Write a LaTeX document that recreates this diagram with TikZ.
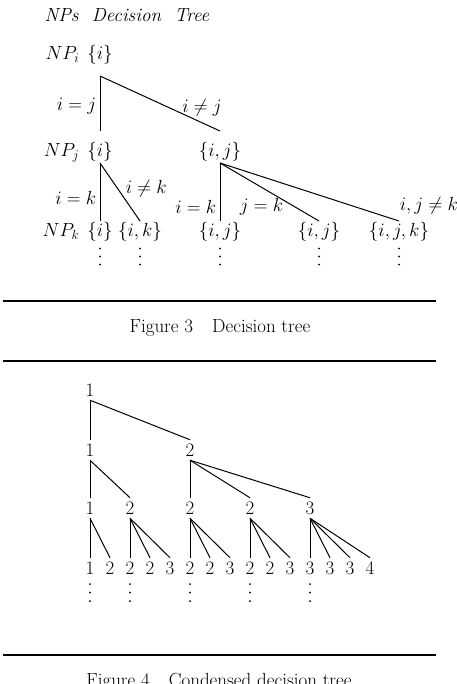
\RequirePackage{fix-cm}
\documentclass[tikz,border=0pt]{standalone}
\usepackage{tikz}
\usetikzlibrary{positioning}

\begin{document}
\begin{tikzpicture}[x=1pt,y=-1pt,
  every node/.style={font=\fontsize{19}{22}\selectfont},
  tnode/.style={inner sep=0pt, outer sep=1.5pt, text height=14pt, text depth=5pt},
  dig/.style={inner sep=0pt, outer ysep=4pt, text height=12.5pt, text depth=0pt},
  branch/.style={line width=1pt},
  rule/.style={line width=1.5pt}]
  \useasboundingbox[fill=white] (0,0) rectangle (456,684);
  % Title
  \node[anchor=west] (title) at (41,15) {\textit{NPs\ \ Decision\ \ Tree}};
  % Figure 3 tree
  \node[tnode] (r0) at (100,55) {$\{i\}$};
  \node[tnode, left=5pt of r0] (npi) {$NP_i$};
  \node[tnode] (a1) at (100,152) {$\{i\}$};
  \node[tnode, left=5pt of a1] (npj) {$NP_j$};
  \node[tnode] (a2) at (220,152) {$\{i,j\}$};
  \node[tnode] (b1) at (100,232) {$\{i\}$};
  \node[tnode, left=5pt of b1] (npk) {$NP_k$};
  \node[tnode] (b2) at (140,232) {$\{i,k\}$};
  \node[tnode] (b3) at (220,232) {$\{i,j\}$};
  \node[tnode] (b4) at (319,232) {$\{i,j\}$};
  \node[tnode] (b5) at (399,232) {$\{i,j,k\}$};
  \draw[branch] ([yshift=-10pt]r0.south) -- node[left, pos=0.55] {$i=j$} ([yshift=10pt]a1.north);
  \draw[branch] ([yshift=-10pt]r0.south) -- node[above, pos=0.85, yshift=3pt] {$i\neq j$} ([yshift=10pt]a2.north);
  \draw[branch] (a1.south) -- node[left, pos=0.6] {$i=k$} (b1.north);
  \draw[branch] (a1.south) -- node[right=4pt, pos=0.45] {$i\neq k$} (b2.north);
  \draw[branch] (a2.south) -- node[left, pos=0.75] {$i=k$} node[right=16pt, pos=0.75] {$j=k$} (b3.north);
  \draw[branch] (a2.south) -- (b4.north);
  \draw[branch] (a2.south) -- node[pos=1, anchor=south west, xshift=-3pt, yshift=3pt] {$i,j\neq k$} (b5.north);
  \foreach \x in {100,140,220,319,399}
    \foreach \y in {248.5,256.5,264.5}
      \fill (\x,\y) circle (1pt);
  % Caption 3
  \draw[rule] (3,301) -- (436,301);
  \node (cap3) at (220,328) {Figure 3\quad Decision tree};
  \draw[rule] (3,361) -- (436,361);
  % Figure 4 tree
  \node[dig] (d0) at (90,390) {1};
  \node[dig] (e1) at (90,450) {1};
  \node[dig] (e2) at (190,450) {2};
  \foreach \x/\d [count=\n] in {90/1,130/2,190/2,250/2,310/3}
    \node[dig] (f\n) at (\x,508) {\d};
  \foreach \d [count=\n] in {1,2,2,2,3,2,2,3,2,2,3,3,3,3,4}
    \node[dig] (g\n) at (70+20*\n,568) {\d};
  \foreach \p/\c in {d0/e1,d0/e2,e1/f1,e1/f2,e2/f3,e2/f4,e2/f5,
                     f1/g1,f1/g2,f2/g3,f2/g4,f2/g5,f3/g6,f3/g7,f3/g8,
                     f4/g9,f4/g10,f4/g11,f5/g12,f5/g13,f5/g14,f5/g15}
    \draw[branch] (\p.south) -- (\c.north);
  \foreach \x in {90,130,190,250,310}
    \foreach \y in {584,592.5,601}
      \fill (\x,\y) circle (1pt);
  % Caption 4
  \draw[rule] (3,655) -- (436,655);
  \node (cap4) at (219,682) {Figure 4\quad Condensed decision tree};
\end{tikzpicture}
\end{document}
